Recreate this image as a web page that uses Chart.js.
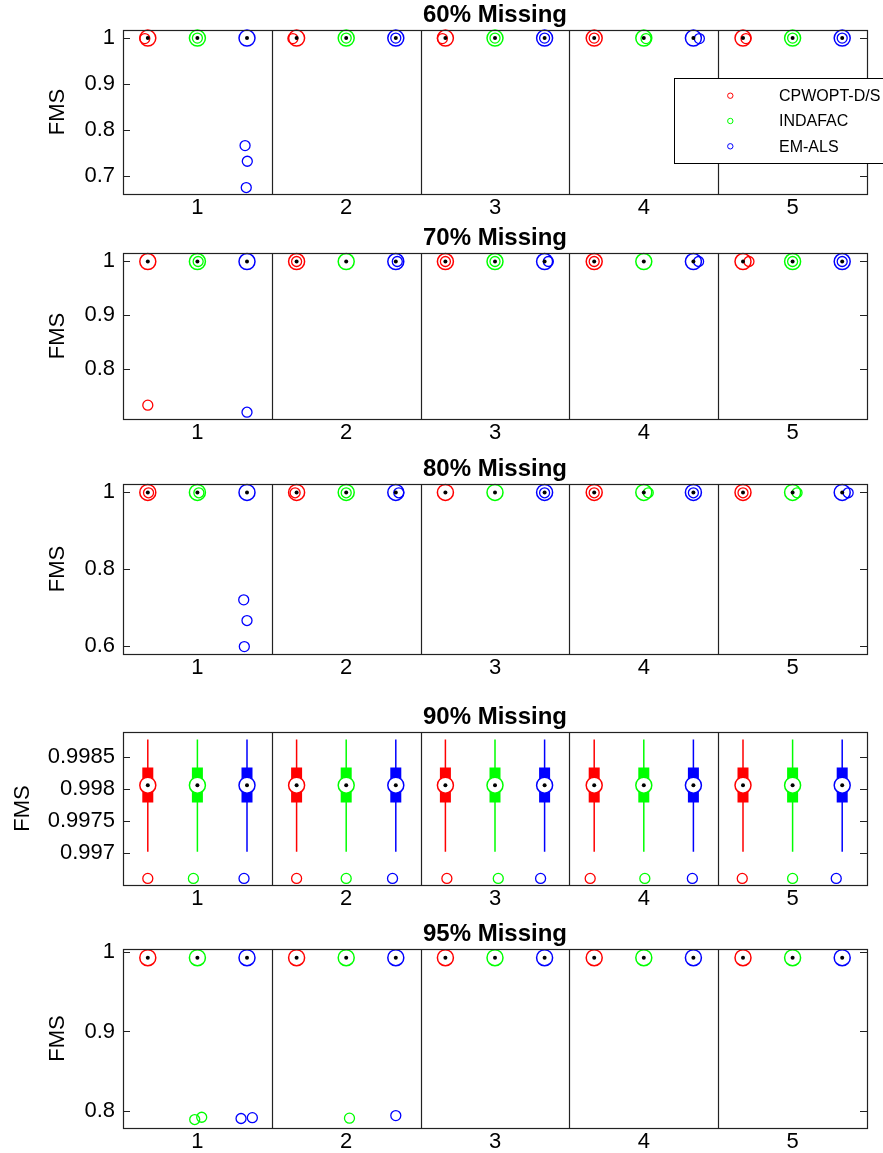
<!DOCTYPE html>
<html>
<head>
<meta charset="utf-8">
<script src="https://cdn.jsdelivr.net/npm/chart.js@4.4.1/dist/chart.umd.min.js"></script>
<style>
  html, body { margin: 0; padding: 0; background: #fff; overflow: hidden; }
  body { width: 883px; height: 1153px; position: relative; }
  canvas { position: absolute; left: 0; }
</style>
</head>
<body>
<script>
// ---- data ----
const groups = ['1', '2', '3', '4', '5'];
const methods = ['CPWOPT-D/S', 'INDAFAC', 'EM-ALS'];
const methodColors = ['#ff0000', '#00ff00', '#0000ff'];
const panelTitles = ['60% Missing', '70% Missing', '80% Missing', '90% Missing', '95% Missing'];

// y ticks per panel
const yTicks60 = [0.7, 0.8, 0.9, 1];
const yTicks70 = [0.8, 0.9, 1];
const yTicks80 = [0.6, 0.8, 1];
const yTicks90 = [0.997, 0.9975, 0.998, 0.9985];
const yTicks95 = [0.8, 0.9, 1];

// medians [method][group]
const med60 = [[0.999, 0.999, 0.999, 0.999, 0.999], [0.999, 0.999, 0.999, 0.999, 0.999], [0.999, 0.999, 0.999, 0.999, 0.999]];
const med70 = [[0.999, 0.999, 0.999, 0.999, 0.999], [0.999, 0.999, 0.999, 0.999, 0.999], [0.999, 0.999, 0.999, 0.999, 0.999]];
const med80 = [[0.999, 0.999, 0.999, 0.999, 0.999], [0.999, 0.999, 0.999, 0.999, 0.999], [0.999, 0.999, 0.999, 0.999, 0.999]];
const med90 = [[0.99806, 0.99806, 0.99806, 0.99806, 0.99806], [0.99806, 0.99806, 0.99806, 0.99806, 0.99806], [0.99806, 0.99806, 0.99806, 0.99806, 0.99806]];
const med95 = [[0.9925, 0.9925, 0.9925, 0.9925, 0.9925], [0.9925, 0.9925, 0.9925, 0.9925, 0.9925], [0.9925, 0.9925, 0.9925, 0.9925, 0.9925]];

// 90% panel box and whiskers [method][group]
const q1_90 = [[0.99779, 0.99779, 0.99779, 0.99779, 0.99779], [0.99779, 0.99779, 0.99779, 0.99779, 0.99779], [0.99779, 0.99779, 0.99779, 0.99779, 0.99779]];
const q3_90 = [[0.998335, 0.998335, 0.998335, 0.998335, 0.998335], [0.998335, 0.998335, 0.998335, 0.998335, 0.998335], [0.998335, 0.998335, 0.998335, 0.998335, 0.998335]];
const wlo90 = [[0.997025, 0.997025, 0.997025, 0.997025, 0.997025], [0.997025, 0.997025, 0.997025, 0.997025, 0.997025], [0.997025, 0.997025, 0.997025, 0.997025, 0.997025]];
const whi90 = [[0.99877, 0.99877, 0.99877, 0.99877, 0.99877], [0.99877, 0.99877, 0.99877, 0.99877, 0.99877], [0.99877, 0.99877, 0.99877, 0.99877, 0.99877]];

// outliers: [group, method, value]  with a matching horizontal jitter list
const out60 = [[1, 0, 0.998], [1, 1, 0.999], [1, 2, 0.766], [1, 2, 0.732], [1, 2, 0.675],
  [2, 0, 0.998], [2, 1, 0.999], [2, 2, 0.999], [3, 0, 0.998], [3, 1, 0.999], [3, 2, 0.999],
  [4, 0, 0.999], [4, 1, 0.998], [4, 2, 0.998], [5, 0, 0.998], [5, 1, 0.999], [5, 2, 0.999]];
const jit60 = [-0.02, 0, -0.013, 0.002, -0.005, -0.025, 0, 0, -0.02, 0, 0, 0, 0.015, 0.04, 0.02, 0, 0];

const out70 = [[1, 0, 0.734], [1, 1, 0.999], [1, 2, 0.721], [2, 0, 0.999], [2, 2, 0.999],
  [3, 0, 0.999], [3, 1, 0.999], [3, 2, 0.999], [4, 0, 0.999], [4, 2, 0.999],
  [5, 0, 0.999], [5, 1, 0.999], [5, 2, 0.999]];
const jit70 = [0, 0.005, 0, 0, 0.01, 0, 0, 0.025, 0, 0.035, 0.04, 0, 0];

const out80 = [[1, 0, 0.998], [1, 1, 0.998], [1, 2, 0.7192], [1, 2, 0.6652], [1, 2, 0.5974],
  [2, 0, 0.998], [2, 1, 0.998], [2, 2, 0.998], [3, 2, 0.998], [4, 0, 0.998], [4, 1, 0.998],
  [4, 2, 0.998], [5, 0, 0.998], [5, 1, 0.998], [5, 2, 0.998]];
const jit80 = [0.005, 0.01, -0.022, 0, -0.018, -0.01, 0, 0.02, 0, 0, 0.03, 0, 0, 0.03, 0.04];

const out90 = [[1, 0, 0.99661], [1, 1, 0.99661], [1, 2, 0.99661], [2, 0, 0.99661], [2, 1, 0.99661], [2, 2, 0.99661],
  [3, 0, 0.99661], [3, 1, 0.99661], [3, 2, 0.99661], [4, 0, 0.99661], [4, 1, 0.99661], [4, 2, 0.99661],
  [5, 0, 0.99661], [5, 1, 0.99661], [5, 2, 0.99661]];
const jit90 = [0, -0.027, -0.02, 0, 0, -0.022, 0.01, 0.022, -0.027, -0.027, 0.007, -0.007, -0.005, 0, -0.04];

const out95 = [[1, 1, 0.7896], [1, 1, 0.7925], [1, 2, 0.7909], [1, 2, 0.792], [2, 1, 0.7913], [2, 2, 0.7946]];
const jit95 = [-0.018, 0.029, -0.04, 0.036, 0.022, 0];

// ---- layout ----
const FONT = "'Liberation Sans', Arial, Helvetica, sans-serif";
const methodOffsets = [-1 / 3, 0, 1 / 3];
const panels = [
  { title: panelTitles[0], ticks: yTicks60, min: 0.661, max: 1.0166, med: med60, out: out60, jit: jit60, top: 0, plotH: 164, labelPad: 45, legend: true },
  { title: panelTitles[1], ticks: yTicks70, min: 0.7085, max: 1.0147, med: med70, out: out70, jit: jit70, top: 223, plotH: 166, labelPad: 45 },
  { title: panelTitles[2], ticks: yTicks80, min: 0.578, max: 1.0209, med: med80, out: out80, jit: jit80, top: 454, plotH: 170, labelPad: 45 },
  { title: panelTitles[3], ticks: yTicks90, min: 0.996508, max: 0.998888, med: med90, out: out90, jit: jit90, top: 702, plotH: 153, labelPad: 10,
    q1: q1_90, q3: q3_90, wlo: wlo90, whi: whi90 },
  { title: panelTitles[4], ticks: yTicks95, min: 0.779, max: 1.0034, med: med95, out: out95, jit: jit95, top: 919, plotH: 179, labelPad: 45 }
];
const TITLE_H = 30, XAXIS_H = 34, YAXIS_W = 123, RIGHT_PAD = 16;

Chart.defaults.font.family = FONT;
Chart.defaults.color = '#000';

// title over the plot box, frame, inward y ticks on both sides, group separators, legend
const matlabAxes = {
  id: 'matlabAxes',
  afterDraw(chart, args, opts) {
    const { ctx, chartArea: a, scales } = chart;
    ctx.save();
    ctx.fillStyle = '#000';
    ctx.font = 'bold 24px ' + FONT;
    ctx.textAlign = 'center';
    ctx.textBaseline = 'middle';
    ctx.fillText(opts.title, (a.left + a.right) / 2, a.top - 15);

    ctx.strokeStyle = '#222';
    ctx.lineWidth = 1.2;
    for (let g = 1; g < groups.length; g++) {
      const x = Math.round(scales.x.getPixelForValue(g + 0.5)) + 0.5;
      ctx.beginPath(); ctx.moveTo(x, a.top); ctx.lineTo(x, a.bottom); ctx.stroke();
    }
    scales.y.ticks.forEach(t => {
      const y = Math.round(scales.y.getPixelForValue(t.value)) + 0.5;
      ctx.beginPath();
      ctx.moveTo(a.left, y); ctx.lineTo(a.left + 7, y);
      ctx.moveTo(a.right, y); ctx.lineTo(a.right - 7, y);
      ctx.stroke();
    });
    ctx.strokeRect(Math.round(a.left) + 0.5, Math.round(a.top) + 0.5, Math.round(a.right - a.left), Math.round(a.bottom - a.top));

    if (opts.legend) {
      const lx = 674, ly = 78, lw = 240, lh = 85;
      ctx.fillStyle = '#fff';
      ctx.fillRect(lx, ly, lw, lh);
      ctx.strokeStyle = '#000';
      ctx.lineWidth = 1;
      ctx.strokeRect(lx + 0.5, ly + 0.5, lw, lh);
      ctx.font = '16px ' + FONT;
      ctx.textBaseline = 'middle';
      ctx.textAlign = 'left';
      methods.forEach((name, m) => {
        const y = ly + 17.7 + m * 25.3;
        ctx.beginPath();
        ctx.arc(730.3, y, 2.7, 0, Math.PI * 2);
        ctx.strokeStyle = methodColors[m];
        ctx.stroke();
        ctx.fillStyle = '#000';
        ctx.fillText(name, 779, y + 1);
      });
    }
    ctx.restore();
  }
};

function buildDatasets(p) {
  const ds = [];
  methods.forEach((name, m) => {
    const c = methodColors[m];
    const xAt = gi => gi + 1 + methodOffsets[m];
    if (p.q1) {
      const wpts = [], bpts = [];
      groups.forEach((g, gi) => {
        wpts.push({ x: xAt(gi), y: p.wlo[m][gi] }, { x: xAt(gi), y: p.whi[m][gi] }, { x: xAt(gi), y: null });
        bpts.push({ x: xAt(gi), y: p.q1[m][gi] }, { x: xAt(gi), y: p.q3[m][gi] }, { x: xAt(gi), y: null });
      });
      ds.push({ type: 'line', data: wpts, borderColor: c, borderWidth: 1.5, pointRadius: 0, order: 4 });
      ds.push({ type: 'line', data: bpts, borderColor: c, borderWidth: 11, borderCapStyle: 'butt', pointRadius: 0, order: 3 });
    }
    const medPts = groups.map((g, gi) => ({ x: xAt(gi), y: p.med[m][gi] }));
    ds.push({ type: 'scatter', label: name, data: medPts, pointRadius: 8, pointBackgroundColor: '#fff',
      pointBorderColor: c, pointBorderWidth: 1.5, clip: false, order: 2 });
    const outPts = [];
    p.out.forEach((o, i) => {
      if (o[1] === m) outPts.push({ x: o[0] + methodOffsets[m] + p.jit[i], y: o[2] });
    });
    ds.push({ type: 'scatter', data: outPts, pointRadius: 5, pointBackgroundColor: 'rgba(0,0,0,0)',
      pointBorderColor: c, pointBorderWidth: 1.3, clip: false, order: 1 });
    ds.push({ type: 'scatter', data: medPts, pointRadius: 2, pointBackgroundColor: '#000',
      pointBorderWidth: 0, clip: false, order: 0 });
  });
  return ds;
}

panels.forEach((p, i) => {
  const canvas = document.createElement('canvas');
  const h = TITLE_H + p.plotH + XAXIS_H;
  canvas.width = 883;
  canvas.height = h;
  canvas.style.top = p.top + 'px';
  canvas.style.width = '883px';
  canvas.style.height = h + 'px';
  document.body.appendChild(canvas);

  new Chart(canvas, {
    type: 'scatter',
    data: { datasets: buildDatasets(p) },
    options: {
      responsive: false,
      animation: false,
      events: [],
      layout: { padding: { left: 0, right: RIGHT_PAD, top: TITLE_H, bottom: 0 } },
      plugins: {
        legend: { display: false },
        tooltip: { enabled: false },
        title: { display: false },
        matlabAxes: { legend: !!p.legend, title: p.title }
      },
      scales: {
        x: {
          type: 'linear', min: 0.5, max: groups.length + 0.5,
          afterBuildTicks: s => { s.ticks = groups.map((g, gi) => ({ value: gi + 1 })); },
          afterFit: s => { s.height = XAXIS_H; },
          ticks: { callback: v => groups[v - 1], font: { size: 22 }, padding: 1, color: '#000', maxRotation: 0 },
          grid: { display: false, drawTicks: false },
          border: { display: false }
        },
        y: {
          type: 'linear', min: p.min, max: p.max,
          afterBuildTicks: s => { s.ticks = p.ticks.map(v => ({ value: v })); },
          afterFit: s => { s.width = YAXIS_W; },
          ticks: { callback: v => String(Number(v.toFixed(4))), font: { size: 22 }, padding: 8, color: '#000' },
          grid: { display: false, drawTicks: false },
          border: { display: false },
          title: { display: true, text: 'FMS', color: '#000', font: { size: 22 }, padding: { top: p.labelPad, bottom: 0 } }
        }
      }
    },
    plugins: [matlabAxes]
  });
});
</script>
</body>
</html>
